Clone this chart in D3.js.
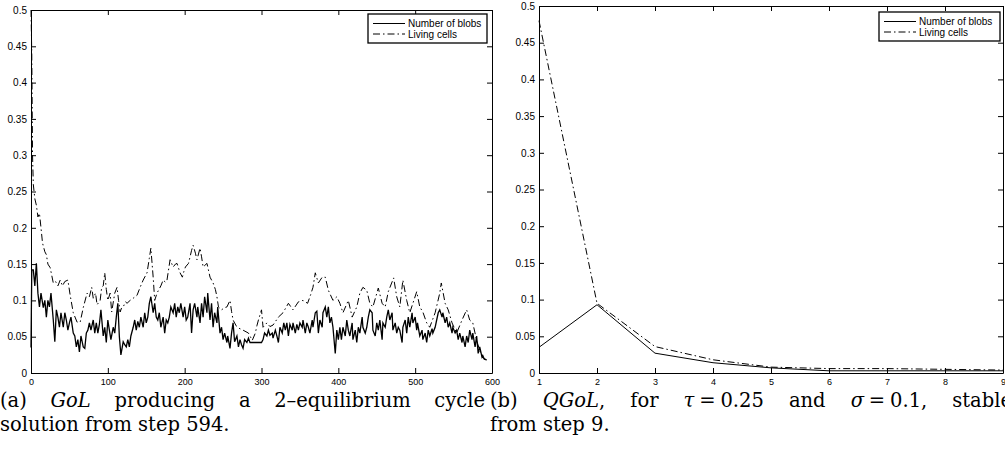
<!DOCTYPE html>
<html>
<head>
<meta charset="utf-8">
<script src="https://cdn.jsdelivr.net/npm/d3@7"></script>
<style>
  body { margin: 0; background: #fff; }
  svg { display: block; }
  .tick text { font-family: "Liberation Sans", Arial, sans-serif; font-size: 10px; fill: #000; }
  .xax .tick text { font-size: 9px; }
  .legend text { font-family: "Liberation Sans", Arial, sans-serif; font-size: 10px; }
  .caption { font-family: "DejaVu Serif", "Liberation Serif", serif; font-size: 19.5px; }
</style>
</head>
<body>
<div class="fig"></div>
<script>
// (a) GoL: steps and values
var golBlobSteps = [0,1,3,5,7,9,11,13,16,18,20,22,24,26,29,31,33,35,37,39,42,44,46,48,50,52,55,57,59,61,63,65,68,70,72,74,76,78,81,83,85,87,89,91,94,96,98,100,102,104,107,109,111,113,115,117,120,122,124,126,128,130,133,135,137,139,141,143,146,148,150,152,154,156,159,161,163,165,167,169,172,174,176,178,180,182,185,187,189,191,193,195,198,200,202,204,207,209,211,213,216,217,220,222,224,226,229,230,233,235,237,239,242,243,246,248,250,252,255,256,259,261,263,265,268,270,272,274,276,278,281,283,285,287,300,302,304,307,309,311,314,315,318,320,322,324,327,329,331,333,335,337,340,341,344,346,348,350,353,354,357,359,361,363,366,367,370,372,374,376,379,380,383,385,387,389,391,393,396,398,400,402,404,406,409,411,413,415,418,419,422,424,426,428,431,432,435,437,439,441,444,445,448,450,452,454,457,458,461,463,465,467,470,471,474,476,478,480,483,484,487,489,491,493,496,497,500,502,503,506,509,510,513,515,517,519,522,523,526,528,530,532,535,536,539,541,543,545,548,549,552,554,556,558,561,562,565,567,569,571,574,575,578,580,582,584,587,588,590,593];
var golBlobValues = [0.035,0.142,0.142,0.12,0.151,0.11,0.091,0.11,0.09,0.1,0.077,0.1,0.091,0.11,0.073,0.043,0.087,0.077,0.063,0.083,0.063,0.083,0.073,0.059,0.069,0.077,0.055,0.051,0.036,0.046,0.029,0.051,0.036,0.034,0.055,0.059,0.069,0.059,0.073,0.055,0.069,0.055,0.067,0.087,0.051,0.063,0.042,0.073,0.059,0.046,0.063,0.055,0.077,0.096,0.05,0.025,0.043,0.039,0.036,0.046,0.036,0.051,0.063,0.073,0.059,0.071,0.063,0.077,0.063,0.083,0.069,0.077,0.096,0.105,0.083,0.096,0.077,0.073,0.083,0.063,0.077,0.055,0.073,0.069,0.077,0.091,0.083,0.096,0.077,0.091,0.083,0.096,0.077,0.091,0.073,0.077,0.096,0.055,0.087,0.096,0.077,0.091,0.069,0.096,0.077,0.105,0.083,0.11,0.073,0.096,0.063,0.083,0.069,0.091,0.055,0.063,0.046,0.055,0.042,0.051,0.034,0.055,0.069,0.043,0.051,0.036,0.046,0.039,0.034,0.046,0.042,0.048,0.042,0.042,0.042,0.046,0.055,0.051,0.059,0.052,0.055,0.048,0.059,0.051,0.042,0.063,0.055,0.069,0.059,0.069,0.051,0.067,0.059,0.069,0.055,0.067,0.059,0.069,0.063,0.073,0.055,0.069,0.063,0.055,0.073,0.063,0.083,0.085,0.055,0.073,0.063,0.083,0.091,0.077,0.091,0.069,0.077,0.063,0.027,0.059,0.046,0.063,0.046,0.063,0.051,0.073,0.059,0.051,0.069,0.046,0.059,0.042,0.063,0.055,0.077,0.063,0.055,0.063,0.077,0.087,0.083,0.059,0.051,0.069,0.059,0.073,0.046,0.069,0.063,0.077,0.087,0.073,0.083,0.059,0.069,0.055,0.063,0.059,0.042,0.063,0.073,0.055,0.077,0.063,0.083,0.069,0.077,0.059,0.069,0.051,0.059,0.046,0.055,0.042,0.059,0.051,0.061,0.055,0.063,0.073,0.083,0.087,0.077,0.083,0.069,0.077,0.063,0.069,0.055,0.063,0.055,0.059,0.046,0.055,0.042,0.051,0.036,0.051,0.042,0.059,0.046,0.055,0.036,0.051,0.027,0.036,0.022,0.024,0.019,0.018];

var golCellSteps = [0,1,2,3,5,7,9,11,13,15,18,20,22,25,29,32,35,38,41,44,48,51,55,60,64,68,73,76,79,81,84,86,90,92,94,96,98,100,103,105,109,112,114,116,118,120,123,125,129,133,138,142,146,151,154,156,159,161,164,166,169,172,175,177,181,185,188,190,194,197,199,201,205,207,209,211,214,216,220,222,224,229,233,237,240,242,244,248,252,255,259,261,263,267,270,276,283,288,292,294,296,300,302,307,311,315,322,328,335,341,348,354,360,364,367,370,374,379,383,387,393,398,402,406,413,418,424,428,432,437,441,445,452,457,461,465,472,476,480,484,489,493,502,506,510,515,519,526,532,534,539,543,548,554,561,567,571,575,580,585,588,593];
var golCellValues = [0.5,0.44,0.3,0.26,0.24,0.231,0.215,0.22,0.2,0.179,0.167,0.163,0.15,0.145,0.124,0.126,0.12,0.128,0.12,0.126,0.128,0.107,0.083,0.07,0.07,0.09,0.11,0.105,0.118,0.103,0.11,0.094,0.1,0.118,0.12,0.138,0.115,0.1,0.11,0.084,0.11,0.118,0.1,0.084,0.09,0.091,0.098,0.096,0.1,0.103,0.107,0.118,0.128,0.138,0.158,0.172,0.132,0.1,0.11,0.114,0.12,0.128,0.125,0.128,0.156,0.146,0.15,0.151,0.138,0.132,0.14,0.146,0.151,0.16,0.169,0.176,0.165,0.156,0.172,0.16,0.146,0.151,0.132,0.124,0.115,0.105,0.091,0.087,0.09,0.091,0.1,0.085,0.073,0.065,0.062,0.059,0.055,0.045,0.055,0.065,0.073,0.087,0.063,0.069,0.064,0.066,0.077,0.083,0.096,0.087,0.098,0.1,0.096,0.108,0.118,0.138,0.124,0.132,0.132,0.114,0.1,0.105,0.096,0.083,0.1,0.077,0.091,0.11,0.118,0.114,0.096,0.091,0.117,0.096,0.091,0.112,0.131,0.105,0.091,0.128,0.1,0.083,0.112,0.091,0.084,0.069,0.063,0.083,0.11,0.124,0.096,0.087,0.069,0.055,0.073,0.087,0.073,0.069,0.045,0.028,0.021,0.018];

// (b) QGoL
var qgolSteps = [1,2,3,4,5,6,7,8,9];
var qgolBlobValues = [0.035,0.093,0.027,0.014,0.007,0.003,0.003,0.003,0.003];
var qgolCellValues = [0.48,0.095,0.036,0.018,0.008,0.006,0.006,0.005,0.004];

var yTicks = [0,0.05,0.1,0.15,0.2,0.25,0.3,0.35,0.4,0.45,0.5];
var golXTicks = [0,100,200,300,400,500,600];
var legendLabels = ["Number of blobs", "Living cells"];

var width = 1005, height = 463;
var svg = d3.select(".fig").append("svg")
  .attr("width", width)
  .attr("height", height);

var dashStyle = "7,3,1.5,3";

function drawPanel(opt) {
  var x = d3.scaleLinear().domain(opt.xDomain).range([opt.left, opt.right]);
  var y = d3.scaleLinear().domain([0, 0.5]).range([opt.bottom, opt.top]);
  var g = svg.append("g");

  g.append("g")
    .attr("class", "xax")
    .attr("transform", "translate(0," + opt.bottom + ")")
    .call(d3.axisBottom(x).tickValues(opt.xTicks).tickSize(-5).tickSizeOuter(0).tickPadding(6).tickFormat(d3.format("d")));
  g.append("g")
    .attr("transform", "translate(0," + opt.top + ")")
    .call(d3.axisTop(x).tickValues(opt.xTicks).tickSize(-5).tickSizeOuter(0).tickFormat(""));
  g.append("g")
    .attr("transform", "translate(" + opt.left + ",0)")
    .call(d3.axisLeft(y).tickValues(yTicks).tickSize(-5).tickSizeOuter(0).tickPadding(4).tickFormat(function(d) { return d3.format("~g")(d); }));
  g.append("g")
    .attr("transform", "translate(" + opt.right + ",0)")
    .call(d3.axisRight(y).tickValues(yTicks).tickSize(-5).tickSizeOuter(0).tickFormat(""));
  g.selectAll(".domain").attr("stroke", "#000");
  g.selectAll(".tick line").attr("stroke", "#000");

  var line = d3.line()
    .x(function(d) { return x(d[0]); })
    .y(function(d) { return y(d[1]); });

  g.append("path")
    .datum(d3.zip(opt.cellSteps, opt.cellValues))
    .attr("fill", "none")
    .attr("stroke", "#000")
    .attr("stroke-width", 1)
    .attr("stroke-dasharray", dashStyle)
    .attr("d", line);

  g.append("path")
    .datum(d3.zip(opt.blobSteps, opt.blobValues))
    .attr("fill", "none")
    .attr("stroke", "#000")
    .attr("stroke-width", opt.blobWidth)
    .attr("d", line);

  // legend box
  var lg = g.append("g").attr("class", "legend")
    .attr("transform", "translate(" + opt.legend[0] + "," + opt.legend[1] + ")");
  lg.append("rect")
    .attr("width", opt.legend[2])
    .attr("height", 29)
    .attr("fill", "#fff")
    .attr("stroke", "#000")
    .attr("stroke-width", 1.3);
  legendLabels.forEach(function(lab, i) {
    var yy = 9.5 + i * 10.5;
    lg.append("line")
      .attr("x1", 5).attr("x2", 37)
      .attr("y1", yy).attr("y2", yy)
      .attr("stroke", "#000")
      .attr("stroke-dasharray", i == 1 ? dashStyle : null);
    lg.append("text")
      .attr("x", 40).attr("y", yy + 3.5)
      .text(lab);
  });
}

drawPanel({
  xDomain: [0, 600], xTicks: golXTicks,
  left: 31, right: 492, top: 10, bottom: 373,
  blobSteps: golBlobSteps, blobValues: golBlobValues,
  cellSteps: golCellSteps, cellValues: golCellValues,
  blobWidth: 1.3,
  legend: [368, 14, 119]
});

drawPanel({
  xDomain: [1, 9], xTicks: qgolSteps,
  left: 539, right: 1003, top: 6, bottom: 373,
  blobSteps: qgolSteps, blobValues: qgolBlobValues,
  cellSteps: qgolSteps, cellValues: qgolCellValues,
  blobWidth: 1,
  legend: [879, 12, 121]
});

// captions, first lines justified by widening the normal word gaps
function justify(txt, target) {
  var node = txt.node();
  var natural = node.getComputedTextLength();
  var gaps = node.textContent.split(" ").length - 1;
  txt.attr("word-spacing", Math.max(0, (target - natural) / gaps) + "px");
}

var thick = "\u2005";
var cap = svg.append("g").attr("class", "caption");
var a1 = cap.append("text").attr("x", 0).attr("y", 407);
a1.append("tspan").text("(a) ");
a1.append("tspan").attr("font-style", "italic").text("GoL");
a1.append("tspan").text(" producing a 2\u2013equilibrium cycle");
justify(a1, 485);
cap.append("text").attr("x", 0).attr("y", 431).text("solution from step 594.");

var b1 = cap.append("text").attr("x", 490).attr("y", 407);
b1.append("tspan").text("(b) ");
b1.append("tspan").attr("font-style", "italic").text("QGoL");
b1.append("tspan").text(", for ");
b1.append("tspan").attr("font-style", "italic").text("\u03c4");
b1.append("tspan").text(thick + "=" + thick + "0.25 and ");
b1.append("tspan").attr("font-style", "italic").text("\u03c3");
b1.append("tspan").text(thick + "=" + thick + "0.1, stable");
justify(b1, 522);
cap.append("text").attr("x", 490).attr("y", 431).text("from step 9.");
</script>
</body>
</html>
